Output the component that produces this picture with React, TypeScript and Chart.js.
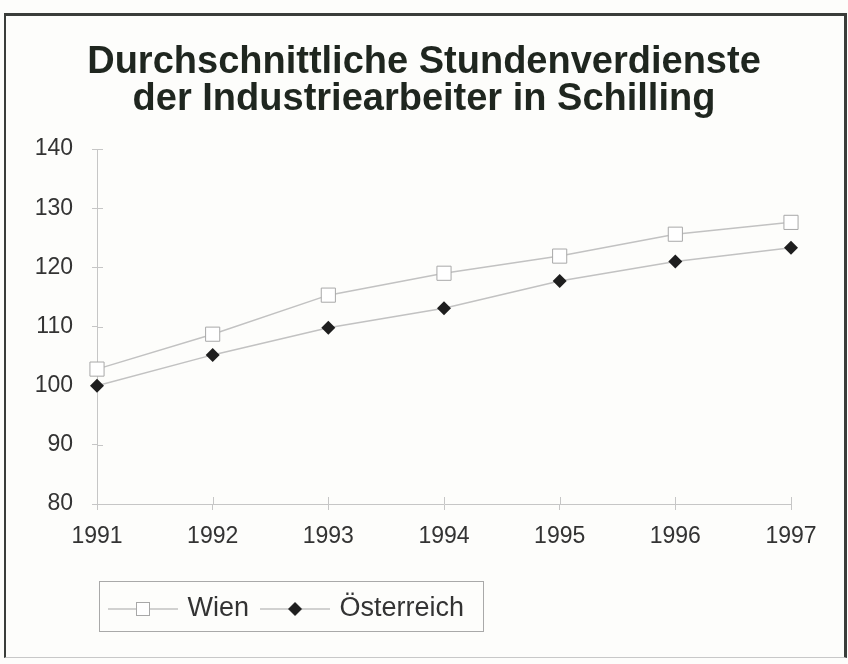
import React, { useEffect, useRef } from "react";
import { Chart, registerables } from "chart.js";

Chart.register(...registerables);

const titleLines = ["Durchschnittliche Stundenverdienste", "der Industriearbeiter in Schilling"];
const years = ["1991", "1992", "1993", "1994", "1995", "1996", "1997"];
const wien = [102.8, 108.7, 115.3, 119.0, 121.9, 125.6, 127.6];
const oesterreich = [100.0, 105.2, 109.8, 113.1, 117.7, 121.0, 123.3];
const seriesNames = ["Wien", "Österreich"];
const yMin = 80;
const yMax = 140;
const yStep = 10;

const FONT = "'Liberation Sans', Arial, Helvetica, sans-serif";
const LINE = "#c2c2c2";
const AXIS = "#c6c6c6";
const TEXT = "#333333";

function makeLegendImage(kind: "square" | "diamond"): HTMLCanvasElement {
  const c = document.createElement("canvas");
  c.width = 70;
  c.height = 20;
  const ctx = c.getContext("2d")!;
  ctx.strokeStyle = LINE;
  ctx.lineWidth = 1.5;
  ctx.beginPath();
  ctx.moveTo(0, 10);
  ctx.lineTo(70, 10);
  ctx.stroke();
  if (kind === "square") {
    ctx.fillStyle = "#ffffff";
    ctx.fillRect(28, 3, 14, 14);
    ctx.strokeStyle = "#a8a8a8";
    ctx.lineWidth = 1;
    ctx.strokeRect(28.5, 3.5, 13, 13);
  } else {
    ctx.fillStyle = "#1e1e1e";
    ctx.beginPath();
    ctx.moveTo(35 - 7, 10);
    ctx.lineTo(35, 3);
    ctx.lineTo(35 + 7, 10);
    ctx.lineTo(35, 17);
    ctx.closePath();
    ctx.fill();
  }
  return c;
}

const innerTicks = {
  id: "innerTicks",
  beforeDatasetsDraw(chart: any) {
    const { ctx, chartArea, scales } = chart;
    const x = scales.x;
    const y = scales.y;
    ctx.save();
    ctx.strokeStyle = AXIS;
    ctx.lineWidth = 1;
    ctx.beginPath();
    x.ticks.forEach((_: any, i: number) => {
      const px = Math.round(x.getPixelForTick(i)) + 0.5;
      ctx.moveTo(px, chartArea.bottom);
      ctx.lineTo(px, chartArea.bottom - 7);
    });
    y.ticks.forEach((_: any, i: number) => {
      const py = Math.round(y.getPixelForTick(i)) + 0.5;
      ctx.moveTo(chartArea.left, py);
      ctx.lineTo(chartArea.left + 6, py);
    });
    ctx.stroke();
    ctx.restore();
  },
};

const legendBorder = {
  id: "legendBorder",
  afterDraw(chart: any) {
    const lg = chart.legend;
    if (!lg || !lg.legendHitBoxes || !lg.legendHitBoxes.length) return;
    const boxes = lg.legendHitBoxes;
    const first = boxes[0];
    const last = boxes[boxes.length - 1];
    const left = first.left - 13;
    const right = last.left + last.width + 19;
    const top = first.top - 15;
    const bottom = first.top + first.height + 8;
    const ctx = chart.ctx;
    ctx.save();
    ctx.strokeStyle = "#a9a9a9";
    ctx.lineWidth = 1;
    ctx.strokeRect(Math.round(left) + 0.5, Math.round(top) + 0.5, Math.round(right - left), Math.round(bottom - top));
    ctx.restore();
  },
};

export default function App() {
  const ref = useRef<HTMLCanvasElement | null>(null);

  useEffect(() => {
    if (!ref.current) return;
    const legendImgs = [makeLegendImage("square"), makeLegendImage("diamond")];
    const chart = new Chart(ref.current, {
      type: "line",
      data: {
        labels: years,
        datasets: [
          {
            label: seriesNames[0],
            data: wien,
            borderColor: LINE,
            borderWidth: 1.5,
            pointStyle: "rect",
            pointRadius: 10,
            pointBackgroundColor: "#ffffff",
            pointBorderColor: "#a8a8a8",
            pointBorderWidth: 1,
            tension: 0,
          },
          {
            label: seriesNames[1],
            data: oesterreich,
            borderColor: LINE,
            borderWidth: 1.5,
            pointStyle: "rectRot",
            pointRadius: 7,
            pointBackgroundColor: "#1e1e1e",
            pointBorderColor: "#1e1e1e",
            pointBorderWidth: 0,
            tension: 0,
          },
        ],
      },
      options: {
        animation: false,
        responsive: false,
        devicePixelRatio: 1,
        layout: { padding: { left: 0, right: 0, top: 0, bottom: 31.5 } },
        plugins: {
          title: {
            display: true,
            text: titleLines,
            color: "#1f261f",
            font: { family: FONT, size: 38, weight: "bold", lineHeight: 37 / 38 },
            padding: { top: 44.5, bottom: 30.5 },
          },
          legend: {
            display: true,
            position: "bottom",
            align: "start",
            fullSize: false,
            labels: {
              usePointStyle: true,
              pointStyleWidth: 62,
              padding: 15,
              color: TEXT,
              font: { family: FONT, size: 27 },
              generateLabels: (ch: any) =>
                ch.data.datasets.map((ds: any, i: number) => ({
                  text: ds.label,
                  pointStyle: legendImgs[i],
                  fillStyle: "transparent",
                  strokeStyle: "transparent",
                  lineWidth: 0,
                  hidden: false,
                  datasetIndex: i,
                  fontColor: TEXT,
                })),
            },
          },
          tooltip: { enabled: false },
        },
        scales: {
          x: {
            type: "category",
            offset: false,
            grid: { display: true, drawOnChartArea: false, drawTicks: true, tickLength: 6, color: AXIS },
            border: { display: true, color: AXIS, width: 1 },
            ticks: { color: TEXT, padding: 13, font: { family: FONT, size: 23 }, maxRotation: 0, autoSkip: false },
            afterFit: (scale: any) => {
              scale.height = 76.5;
            },
          },
          y: {
            min: yMin,
            max: yMax,
            grid: { display: true, drawOnChartArea: false, drawTicks: true, tickLength: 5, color: AXIS },
            border: { display: true, color: AXIS, width: 1 },
            ticks: { stepSize: yStep, color: TEXT, padding: 19, font: { family: FONT, size: 23 } },
            afterFit: (scale: any) => {
              scale.width = 97;
            },
          },
          yRightSpace: {
            type: "linear",
            position: "right",
            min: yMin,
            max: yMax,
            display: true,
            grid: { display: false },
            border: { display: false },
            ticks: { display: false },
            afterFit: (scale: any) => {
              scale.width = 57;
            },
          },
        },
      },
      plugins: [innerTicks, legendBorder],
    });
    return () => chart.destroy();
  }, []);

  return (
    <div
      style={{
        position: "fixed",
        left: 0,
        top: 0,
        width: 848,
        height: 664,
        overflow: "hidden",
        background: "#fdfdfb",
      }}
    >
      <canvas ref={ref} width={848} height={664} style={{ position: "absolute", left: 0, top: 0, width: 848, height: 664 }} />
      <div
        style={{
          position: "absolute",
          left: 4,
          top: 13,
          width: 838,
          height: 641,
          borderTop: "3px solid #3a3d3a",
          borderLeft: "2px solid #3a3d3a",
          borderRight: "3px solid #3a3d3a",
          borderBottom: "1px solid #c8c8c8",
          pointerEvents: "none",
        }}
      />
    </div>
  );
}
